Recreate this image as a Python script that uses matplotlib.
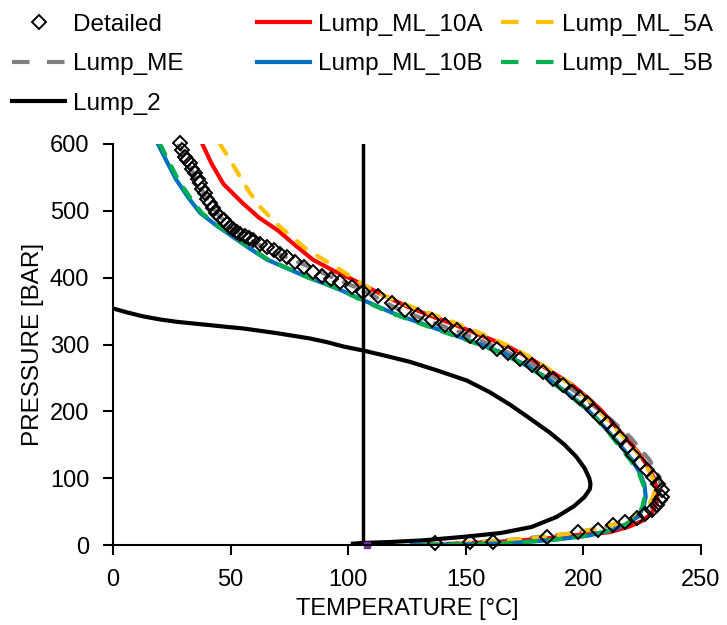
import matplotlib.pyplot as plt
from matplotlib.lines import Line2D

plt.rcParams['font.family'] = ['Liberation Sans', 'DejaVu Sans']

# Detailed (diamonds)
det_t = [28.5, 29.5, 30.5, 31.5, 32.7, 33.8, 35, 36, 37, 38, 39, 40, 41.2, 42.6, 44, 45.5, 47, 48.4,
         49.8, 51.2, 52.6, 54, 56, 57.8, 59.7, 62.5, 65.4, 68.5, 71.2, 73.9, 77.5, 81.3, 85.2, 89,
         92.8, 96.6, 101.5, 106.5, 112.8, 118.5, 124.1, 129.8, 135.5, 141.2, 146.1, 151.8, 157.4,
         163.1, 168.1, 173, 178, 183, 187.2, 191.5, 195, 198.6, 201.4, 204.2, 207, 209.9, 212.7,
         215.6, 218.4, 221.2, 224, 226.9, 229.7, 231.9, 233.3, 233.6, 232.6, 231.2, 229, 226.2,
         222.6, 217.7, 212.7, 206.3, 197.8, 184.4, 161.7, 151.8, 136.9]
det_p = [601, 591, 581, 576, 571, 563, 556, 548, 541, 533, 526, 518, 511, 504, 497, 491, 486, 481,
         476, 473, 469, 466, 462, 459, 456, 451, 446, 441, 436, 431, 424, 416, 408, 403,
         398, 393, 386, 378, 372, 362, 352, 344, 337, 329, 322, 312, 304,
         294, 287, 279, 269, 259, 249, 239, 229, 220, 212, 202, 192, 182, 172,
         160, 147, 135, 122, 112, 102, 92, 82, 72, 67, 60, 52, 47,
         41, 35, 30, 23, 20, 11.5, 5, 4, 2.5]

# Lump_ME (grey dashed)
me_t = [28, 32, 38, 44, 50, 58, 66, 74, 83, 93, 103, 107, 119, 132, 148, 165, 182, 196, 209, 220,
        228, 232.5, 233, 231, 226, 218, 207, 192, 170, 150, 130]
me_p = [600, 570, 530, 497, 475, 457, 442, 430, 417, 401, 386, 380, 357, 338, 318, 293, 264, 231,
        196, 161, 128, 100, 80, 62, 46, 35, 25, 16, 8, 3, 0]

# Lump_ML_10A (red)
ml10a_t = [38, 42, 47, 55, 62, 70, 78, 85, 94, 102, 108, 116, 125, 135, 145, 157, 168, 178, 187,
           195, 202, 208, 213, 218, 223, 227, 230, 231.5, 231, 229, 225, 219, 211, 200, 185, 165,
           145, 130]
ml10a_p = [600, 570, 540, 512, 490, 471, 447, 427, 410, 397, 386, 372, 357, 343, 330, 313, 297,
           278, 258, 240, 220, 200, 180, 160, 140, 120, 100, 80, 62, 47, 36, 27, 19, 16, 10, 5,
           2, 0]

# Lump_ML_5A (yellow dashed)
ml5a_t = [45.5, 50, 54, 58, 62.5, 71, 82.5, 96.5, 108, 118, 128, 140, 150, 160, 170, 180, 189, 197,
          203, 208, 213, 218, 222.5, 226.5, 229.5, 230.5, 229.5, 227, 223, 217, 209, 198, 184, 164,
          145, 130]
ml5a_p = [600, 575, 551, 528, 506, 476, 442, 412, 386, 369, 355, 340, 326, 311, 295, 276, 254, 234,
          215, 196, 177, 158, 140, 120, 100, 85, 70, 56, 45, 35, 27, 19, 12, 6, 2, 0]

# Lump_ML_10B (blue)
ml10b_t = [19, 23, 27, 32, 37, 44, 51, 58, 65.5, 74, 82.5, 90, 96.5, 106, 119, 130, 142, 154, 166,
           176, 185, 193, 200, 206, 211, 216, 220.5, 224, 226, 226.5, 225.5, 223, 218.5, 212, 202,
           188, 170, 150, 127]
ml10b_p = [601, 573, 546, 520, 497, 478, 461, 444, 427, 414, 401, 391, 382, 367, 347, 333, 318, 303,
           287, 268, 249, 228, 208, 188, 168, 148, 128, 108, 90, 72, 56, 42, 31, 22, 14, 8, 3, 1, 0]

# Lump_ML_5B (green dashed)
ml5b_t = [20, 24, 28, 33, 38, 45, 52, 59, 66, 75, 83, 91, 97, 106, 119, 130, 142, 154, 166, 176,
          185, 193, 200, 206, 211, 215.5, 220, 223.5, 225.5, 226, 225, 222.5, 218, 211.5, 201.5,
          187.5, 169, 149, 127]
ml5b_p = [600, 572, 545, 519, 496, 477, 460, 443, 427, 413, 400, 390, 381, 366, 346, 332, 317, 302,
          286, 267, 248, 227, 207, 187, 167, 147, 127, 108, 90, 72, 56, 42, 31, 22, 14, 8, 3, 1, 0]

# Lump_2 (black)
l2_t = [0, 6, 12.9, 20, 27, 34, 41.2, 48, 55.4, 62.5, 69.6, 76.7, 83.8, 91, 98, 106.4, 116, 126.3,
        138, 150.5, 160, 168.8, 177, 185.8, 192, 197, 200.5, 202.5, 203, 202.8, 200.5, 196,
        188.6, 178, 165, 150, 132, 118, 106, 102]
l2_p = [354, 348, 342, 337.5, 334, 331.5, 329, 326.5, 324, 320.5, 317, 313, 309, 303.5, 297, 291,
        283, 274, 261, 246, 229, 210, 190, 168, 150, 132, 115, 100, 92, 84, 72, 58,
        42, 27, 18, 12.5, 7, 4.5, 3, 2]

# vertical line and point near 107 °C
vline_t = [106.5, 106.5]
vline_p = [0, 600]
pt_t = [108]
pt_p = [0]

fig = plt.figure(figsize=(7.27, 6.25), dpi=100)
ax = fig.add_axes([0.1554, 0.128, 0.8088, 0.6416])

dash = dict(dashes=(2.8, 3.2), dash_capstyle='round')
ax.plot(me_t, me_p, color='#808080', lw=3, **dash)
ax.plot(ml10a_t, ml10a_p, color='#FF0000', lw=3)
ax.plot(ml5a_t, ml5a_p, color='#FFC000', lw=3, **dash)
ax.plot(ml10b_t, ml10b_p, color='#0070C0', lw=3)
ax.plot(ml5b_t, ml5b_p, color='#00B050', lw=3, **dash)
ax.plot(l2_t, l2_p, color='black', lw=3)
ax.plot(vline_t, vline_p, color='black', lw=2.5)
ax.plot(pt_t, pt_p, marker='s', color='#7030A0', ms=4, ls='none', clip_on=False)
ax.plot(det_t, det_p, ls='none', marker='D', ms=7.5, mfc='none', mec='black', mew=1.4,
        clip_on=False)

ax.set_xlim(0, 250)
ax.set_ylim(0, 600)
ax.set_xticks(range(0, 251, 50))
ax.set_yticks(range(0, 601, 100))
for s in ['top', 'right']:
    ax.spines[s].set_visible(False)
for s in ['left', 'bottom']:
    ax.spines[s].set_linewidth(1.5)
ax.tick_params(direction='out', length=7, width=1.5, labelsize=17, pad=10)
ax.set_xlabel('TEMPERATURE [°C]', fontsize=17, labelpad=5)
ax.set_ylabel('PRESSURE [BAR]', fontsize=17.5, labelpad=4)

# legend proxies (Excel-style two-dash handles)
ldash = dict(lw=3, dashes=(4.2, 4.2))
h = {
    'Detailed': Line2D([], [], ls='none', marker='D', ms=7, mfc='none', mec='black', mew=1.4),
    'Lump_ME': Line2D([], [], color='#808080', **ldash),
    'Lump_2': Line2D([], [], color='black', lw=3),
    'Lump_ML_10A': Line2D([], [], color='#FF0000', lw=3),
    'Lump_ML_10B': Line2D([], [], color='#0070C0', lw=3),
    'Lump_ML_5A': Line2D([], [], color='#FFC000', **ldash),
    'Lump_ML_5B': Line2D([], [], color='#00B050', **ldash),
}
columns = [(0.0165, ['Detailed', 'Lump_ME', 'Lump_2']),
           (0.3535, ['Lump_ML_10A', 'Lump_ML_10B']),
           (0.689, ['Lump_ML_5A', 'Lump_ML_5B'])]
for x0, names in columns:
    fig.legend([h[k] for k in names], names, loc='upper left', bbox_to_anchor=(x0, 0.978),
               frameon=False, fontsize=17.5, handlelength=2.2, handletextpad=0.3,
               labelspacing=0.72, borderpad=0, borderaxespad=0)

fig.savefig('out.png', dpi=100)
